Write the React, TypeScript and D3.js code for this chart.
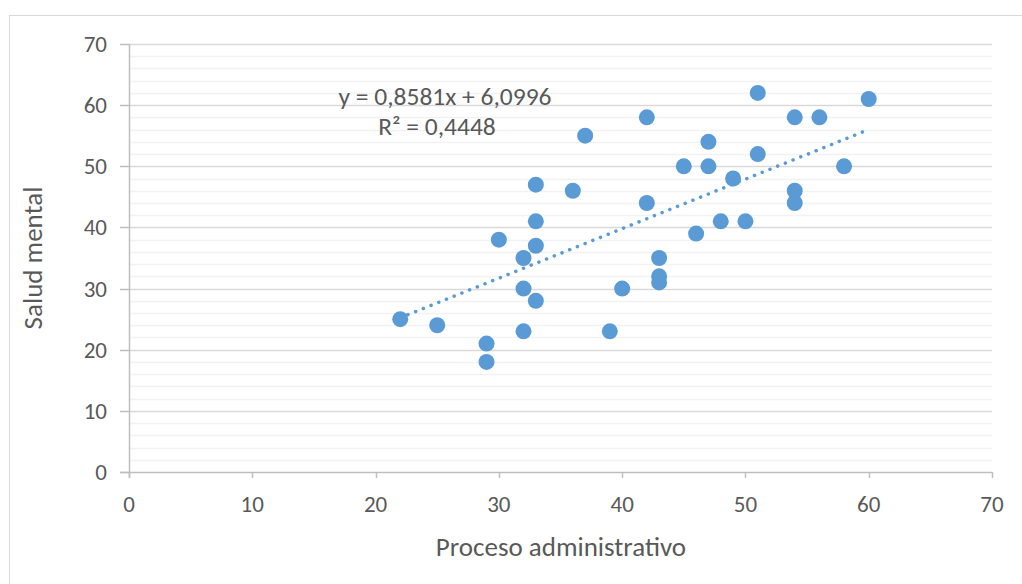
import React, { useRef, useEffect } from 'react';
import * as d3 from 'd3';

// Proceso administrativo (x) vs Salud mental (y)
const procesoAdmin = [22, 25, 29, 29, 30, 32, 32, 32, 33, 33, 33, 33, 36, 37, 39, 40, 42, 42, 43, 43, 43, 45, 46, 47, 47, 48, 49, 50, 51, 51, 54, 54, 54, 56, 58, 60];
const saludMental = [25, 24, 21, 18, 38, 35, 30, 23, 47, 41, 37, 28, 46, 55, 23, 30, 58, 44, 35, 32, 31, 50, 39, 54, 50, 41, 48, 41, 62, 52, 58, 46, 44, 58, 50, 61];

const xTicks = [0, 10, 20, 30, 40, 50, 60, 70];
const yTicks = [0, 10, 20, 30, 40, 50, 60, 70];
const yMinorTicks = d3.range(0, 71, 2);

// trendline as it is drawn in the picture
const trendSlope = 0.81;
const trendIntercept = 7.4;
const trendLabel = 'y = 0,8581x + 6,0996';
const r2Label = 'R² = 0,4448';

const xTitle = 'Proceso administrativo';
const yTitle = 'Salud mental';

const App: React.FC = () => {
  const width = 1022;
  const height = 584;
  const svgRef = useRef<SVGSVGElement>(null);

  useEffect(() => {
    if (!svgRef.current) return;
    const svg = d3.select(svgRef.current);
    svg.selectAll('*').remove();

    const font = "Carlito, 'Open Sans', 'Noto Sans', sans-serif";
    const textColor = '#595959';
    const blue = '#5b9bd5';

    const x = d3.scaleLinear().domain([0, 70]).range([129, 992]);
    const y = d3.scaleLinear().domain([0, 70]).range([472, 44]);

    // outer chart border
    svg.append('rect')
      .attr('x', 9.5).attr('y', 15.5)
      .attr('width', 1100).attr('height', 700)
      .attr('fill', 'white')
      .attr('stroke', '#d9d9d9');

    // minor gridlines
    svg.append('g')
      .selectAll('line')
      .data(yMinorTicks.filter(d => d % 10 !== 0))
      .enter()
      .append('line')
      .attr('x1', x(0)).attr('x2', x(70))
      .attr('y1', d => Math.round(y(d)) + 0.5).attr('y2', d => Math.round(y(d)) + 0.5)
      .attr('stroke', '#f2f2f2').attr('stroke-width', 1.3);

    // major gridlines
    svg.append('g')
      .selectAll('line')
      .data(yTicks.filter(d => d !== 0))
      .enter()
      .append('line')
      .attr('x1', x(0)).attr('x2', x(70))
      .attr('y1', d => Math.round(y(d)) + 0.5).attr('y2', d => Math.round(y(d)) + 0.5)
      .attr('stroke', '#d9d9d9').attr('stroke-width', 1.3);

    // y ticks
    svg.append('g')
      .selectAll('line')
      .data(yTicks)
      .enter()
      .append('line')
      .attr('x1', x(0) - 9).attr('x2', x(0))
      .attr('y1', d => Math.round(y(d)) + 0.5).attr('y2', d => Math.round(y(d)) + 0.5)
      .attr('stroke', '#bfbfbf').attr('stroke-width', 1.5);

    // axes lines
    svg.append('line')
      .attr('x1', x(0) - 9).attr('x2', x(70))
      .attr('y1', y(0) + 0.5).attr('y2', y(0) + 0.5)
      .attr('stroke', '#bfbfbf').attr('stroke-width', 1.5);
    svg.append('line')
      .attr('x1', x(0) + 0.5).attr('x2', x(0) + 0.5)
      .attr('y1', y(70)).attr('y2', y(0) + 6)
      .attr('stroke', '#bfbfbf').attr('stroke-width', 1.5);

    // x ticks
    svg.append('g')
      .selectAll('line')
      .data(xTicks)
      .enter()
      .append('line')
      .attr('x1', d => Math.round(x(d)) + 0.5).attr('x2', d => Math.round(x(d)) + 0.5)
      .attr('y1', y(0)).attr('y2', y(0) + 6)
      .attr('stroke', '#bfbfbf').attr('stroke-width', 1.5);

    // tick labels
    svg.append('g')
      .selectAll('text')
      .data(xTicks)
      .enter()
      .append('text')
      .attr('x', d => x(d)).attr('y', 512)
      .attr('text-anchor', 'middle')
      .attr('font-family', font).attr('font-size', 23)
      .attr('fill', textColor)
      .text(d => d);
    svg.append('g')
      .selectAll('text')
      .data(yTicks)
      .enter()
      .append('text')
      .attr('x', 107).attr('y', d => y(d) + 8)
      .attr('text-anchor', 'end')
      .attr('font-family', font).attr('font-size', 23)
      .attr('fill', textColor)
      .text(d => d);

    // axis titles
    svg.append('text')
      .attr('x', 561).attr('y', 556)
      .attr('text-anchor', 'middle')
      .attr('font-family', font).attr('font-size', 27)
      .attr('fill', textColor)
      .text(xTitle);
    svg.append('text')
      .attr('transform', `translate(42, 258) rotate(-90)`)
      .attr('text-anchor', 'middle')
      .attr('font-family', font).attr('font-size', 27)
      .attr('fill', textColor)
      .text(yTitle);

    // trendline
    const [xMin, xMax] = d3.extent(procesoAdmin) as [number, number];
    svg.append('line')
      .attr('x1', x(xMin)).attr('y1', y(trendSlope * xMin + trendIntercept))
      .attr('x2', x(xMax)).attr('y2', y(trendSlope * xMax + trendIntercept))
      .attr('stroke', blue).attr('stroke-width', 3.5)
      .attr('stroke-linecap', 'round')
      .attr('stroke-dasharray', '0.1 8.2');

    // points
    svg.append('g')
      .selectAll('circle')
      .data(procesoAdmin.map((v, i) => [v, saludMental[i]]))
      .enter()
      .append('circle')
      .attr('cx', d => x(d[0])).attr('cy', d => y(d[1]))
      .attr('r', 8)
      .attr('fill', blue);

    // trendline label
    svg.append('text')
      .attr('x', 445).attr('y', 105)
      .attr('text-anchor', 'middle')
      .attr('font-family', font).attr('font-size', 25.5)
      .attr('fill', textColor)
      .text(trendLabel);
    svg.append('text')
      .attr('x', 437).attr('y', 135)
      .attr('text-anchor', 'middle')
      .attr('font-family', font).attr('font-size', 25.5)
      .attr('fill', textColor)
      .text(r2Label);
  }, []);

  return (
    <svg ref={svgRef} width={width} height={height}
      style={{ position: 'absolute', left: 0, top: 0 }} />
  );
};

export default App;
